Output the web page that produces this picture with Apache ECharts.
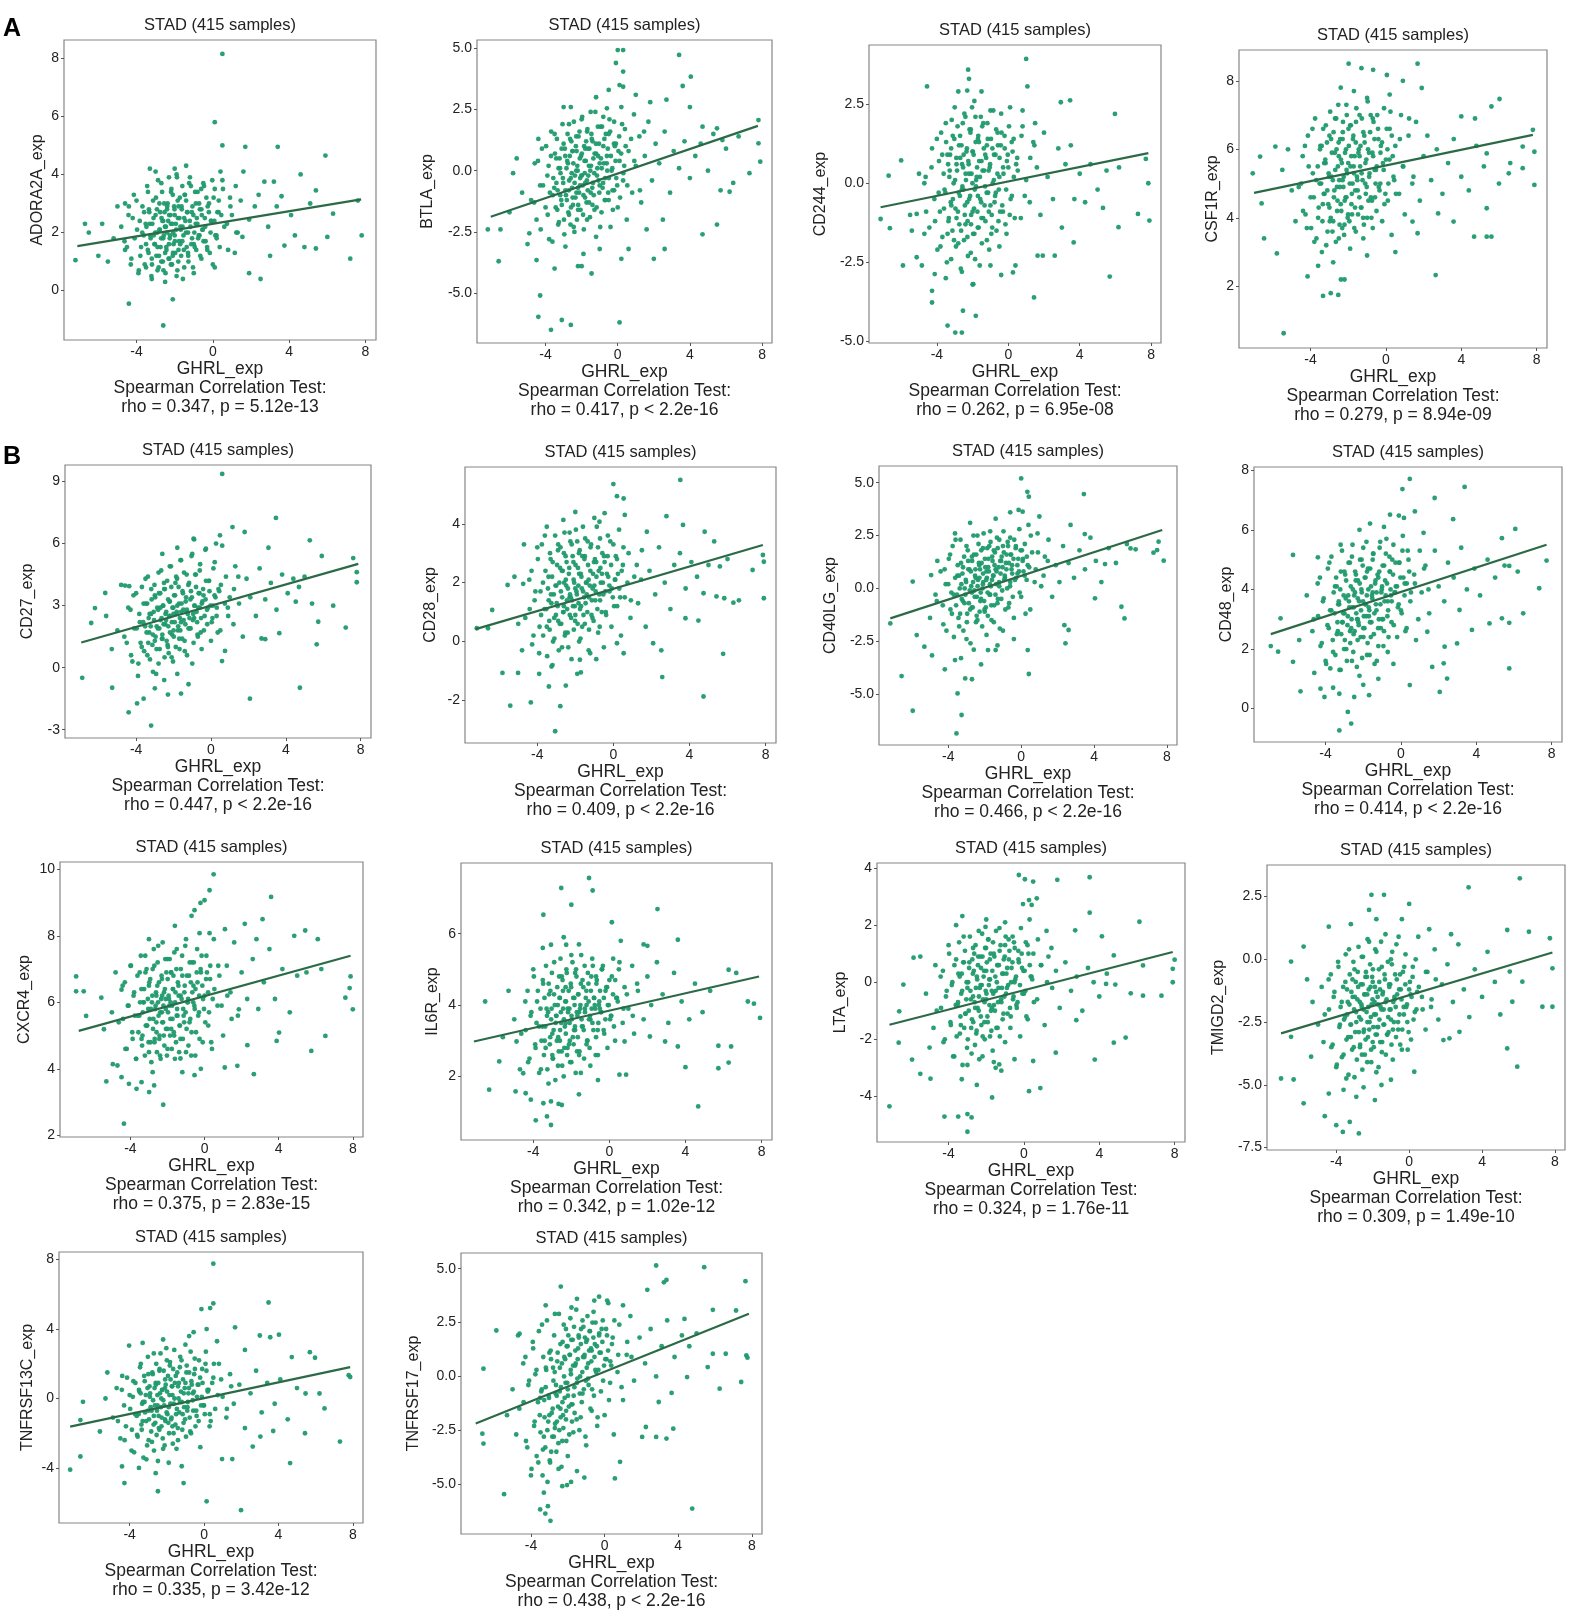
<!DOCTYPE html>
<html>
<head>
<meta charset="utf-8">
<script src="https://cdn.jsdelivr.net/npm/echarts@6/dist/echarts.min.js"></script>
<style>
  html, body { margin: 0; padding: 0; background: #fff; }
  #chart { width: 1575px; height: 1614px; }
</style>
</head>
<body>
<div id="chart"></div>
<script>
// panel texts
var genes = ['ADORA2A', 'BTLA', 'CD244', 'CSF1R', 'CD27', 'CD28', 'CD40LG', 'CD48',
             'CXCR4', 'IL6R', 'LTA', 'TMIGD2', 'TNFRSF13C', 'TNFRSF17'];
var stats = ['rho = 0.347, p = 5.12e-13', 'rho = 0.417, p < 2.2e-16', 'rho = 0.262, p = 6.95e-08',
             'rho = 0.279, p = 8.94e-09', 'rho = 0.447, p < 2.2e-16', 'rho = 0.409, p < 2.2e-16',
             'rho = 0.466, p < 2.2e-16', 'rho = 0.414, p < 2.2e-16', 'rho = 0.375, p = 2.83e-15',
             'rho = 0.342, p = 1.02e-12', 'rho = 0.324, p = 1.76e-11', 'rho = 0.309, p = 1.49e-10',
             'rho = 0.335, p = 3.42e-12', 'rho = 0.438, p < 2.2e-16'];
var xTicks = [-4, 0, 4, 8];
var xRange = [-7.8, 8.55];
var yTicks = [[0, 2, 4, 6, 8], [-5, -2.5, 0, 2.5, 5], [-5, -2.5, 0, 2.5], [2, 4, 6, 8],
              [-3, 0, 3, 6, 9], [-2, 0, 2, 4], [-5, -2.5, 0, 2.5, 5], [0, 2, 4, 6, 8],
              [2, 4, 6, 8, 10], [2, 4, 6], [-4, -2, 0, 2, 4], [-7.5, -5, -2.5, 0, 2.5],
              [-4, 0, 4, 8], [-5, -2.5, 0, 2.5, 5]];
var yRanges = [[-1.7, 8.63], [-7.04, 5.34], [-5.05, 4.37], [0.2, 8.9], [-3.4, 9.8], [-3.45, 5.93],
               [-7.41, 5.79], [-1.12, 8.11], [1.95, 10.22], [0.22, 7.98], [-5.6, 4.18], [-7.6, 3.76],
               [-7.17, 8.44], [-7.32, 5.73]];
// fitted line end points (x, y)
var fitLines = [[[-7.1, 1.53], [7.77, 3.14]], [[-7.04, -1.88], [7.77, 1.83]], [[-7.15, -0.76], [7.84, 0.95]],
                [[-7.0, 4.73], [7.8, 6.42]], [[-6.93, 1.22], [7.87, 5.02]], [[-7.24, 0.42], [7.86, 3.28]],
                [[-7.18, -1.42], [7.74, 2.76]], [[-6.91, 2.5], [7.73, 5.5]], [[-6.79, 5.14], [7.88, 7.4]],
                [[-7.12, 2.98], [7.87, 4.8]], [[-7.14, -1.49], [7.9, 1.06]], [[-7.03, -2.95], [7.86, 0.27]],
                [[-7.2, -1.62], [7.86, 1.81]], [[-7.0, -2.19], [7.84, 2.91]]];

// GHRL values of the densely packed samples, shared by all panels
var ghrlCore = [-4.63,-4.42,-4.27,-4.14,-3.97,-3.88,-3.83,-3.76,-3.69,-3.62,
  -3.57,-3.48,-3.44,-3.37,-3.33,-3.26,-3.22,-3.17,-3.13,-3.06,
  -3.02,-2.96,-2.93,-2.87,-2.84,-2.78,-2.74,-2.69,-2.66,-2.62,
  -2.57,-2.53,-2.48,-2.46,-2.43,-2.37,-2.34,-2.28,-2.26,-2.22,
  -2.17,-2.14,-2.08,-2.06,-2.03,-1.97,-1.94,-1.88,-1.86,-1.83,
  -1.77,-1.73,-1.68,-1.66,-1.63,-1.57,-1.54,-1.48,-1.44,-1.37,
  -1.33,-1.28,-1.24,-1.17,-1.13,-1.07,-1.04,-0.97,-0.93,-0.87,
  -0.84,-0.77,-0.72,-0.66,-0.58,-0.53,-0.46,-0.38,-0.27,-0.16,
  -0.08,0.04,0.13,0.24,0.36,0.53,0.74,0.92,1.23,1.46];
var ghrlCore2 = [-3.52,-3.41,-3.35,-3.28,-3.19,-3.11,-3.04,-2.98,-2.91,-2.82,
  -2.76,-2.71,-2.64,-2.59,-2.55,-2.51,-2.44,-2.39,-2.32,-2.29,
  -2.24,-2.19,-2.12,-2.09,-2.01,-1.99,-1.92,-1.84,-1.81,-1.75,
  -1.71,-1.64,-1.59,-1.52,-1.46,-1.41,-1.35,-1.29,-1.21,-1.15,
  -1.09,-1.02,-0.95,-0.89,-0.81,-0.74,-0.68,-0.61,-0.55,-0.49,
  -0.42,-0.34,-0.29,-0.21,-0.12,-0.03,0.08,0.19,0.31,0.44];

var adora2aCore = [1.7,2.6,1.1,3.3,2.1,0.7,2.4,1.5,2.9,1.9,0.9,2.2,3.6,1.3,2.7,1.8,0.5,2.3,3.1,1.6,
  2.0,1.2,2.8,3.8,0.8,2.1,1.5,2.5,3.4,1.0,1.9,2.7,0.6,2.2,1.4,3.0,2.4,1.1,1.8,2.6,
  3.5,0.9,2.0,1.6,2.9,1.3,2.3,3.9,0.7,2.5,1.7,3.2,2.1,1.2,2.8,0.4,1.9,3.3,2.4,1.5,
  2.7,1.0,3.7,2.2,1.6,2.9,0.8,2.0,3.4,1.4,2.5,1.8,3.0,1.2,2.6,2.1,3.6,1.7,2.9,1.3,
  2.4,3.2,1.9,2.7,1.5,3.5,2.3,2.9,2.0,3.1];
var btlaCore = [-1.3,0.4,-2.4,-0.6,1.0,-1.8,0.2,-0.9,1.6,-2.9,-0.3,0.7,-1.5,1.3,-0.8,-2.1,0.5,-0.1,-1.2,1.9,
  -0.5,-2.6,0.9,-1.0,0.1,1.5,-1.7,-0.4,0.6,-2.2,1.2,-0.7,-1.4,0.3,2.0,-0.2,-1.1,0.8,-2.0,0.0,
  1.4,-0.9,-0.3,-1.6,0.6,2.2,-0.6,-2.4,1.0,-0.1,0.4,-1.3,1.7,-0.8,-0.2,0.9,-1.9,0.2,1.3,-0.5,
  -1.0,0.7,2.4,-1.5,0.1,-0.4,1.1,-2.3,0.5,1.8,-0.7,0.3,-1.2,1.5,0.0,-0.9,2.1,0.6,-1.6,1.0,
  -0.3,0.8,-1.1,1.9,0.2,-0.6,1.3,0.4,-0.8,1.6];
var cd244Core = [0.2,-1.4,1.1,-0.5,-2.1,0.7,-0.9,1.6,-1.7,0.3,-0.2,1.3,-2.5,0.6,-1.1,0.9,-0.6,2.0,-1.5,0.0,
  1.4,-0.8,-2.0,0.4,1.8,-0.3,-1.3,0.8,-2.7,1.2,-0.1,0.5,-1.8,2.2,-0.7,0.1,1.0,-1.2,-2.3,0.6,
  1.7,-0.4,-1.0,0.3,2.4,-1.6,0.9,-0.2,-2.4,1.3,0.2,-0.9,1.5,-1.4,0.7,-0.5,2.1,-1.9,0.4,1.1,
  -0.7,-1.2,0.8,1.9,-0.3,-2.1,0.5,1.4,-1.0,0.0,2.3,-0.6,0.9,-1.5,1.2,-0.2,-0.9,1.6,0.3,-1.3,
  0.7,1.8,-0.5,1.0,-1.1,0.4,1.5,-0.4,0.8,1.2];
var csf1rCore = [4.9,5.8,4.1,6.4,3.7,5.3,4.6,6.9,3.4,5.5,4.3,6.1,5.0,3.9,6.6,4.7,5.7,3.2,6.2,4.4,
  5.2,7.1,4.0,5.9,3.6,6.5,4.8,5.4,3.3,6.0,4.5,7.3,5.1,3.8,6.3,4.2,5.6,6.8,4.9,3.5,
  5.9,4.6,7.0,5.3,4.0,6.1,3.9,5.5,6.7,4.4,5.0,6.4,3.7,5.8,4.8,7.2,5.2,4.1,6.0,5.5,
  4.3,6.9,5.1,3.8,6.2,4.7,5.7,7.4,4.5,5.3,6.5,4.0,5.9,6.8,4.6,5.4,7.0,4.9,6.1,5.6,
  4.4,6.6,5.0,7.1,5.8,4.7,6.3,5.5,6.9,5.2];
var cd27Core = [1.5,2.9,0.6,3.5,1.9,0.2,2.6,1.2,3.9,2.2,0.8,3.1,1.7,4.4,2.4,0.4,2.0,3.3,1.1,2.7,
  4.0,1.5,-0.3,2.9,1.9,3.6,0.9,2.3,4.7,1.4,3.0,2.1,0.5,3.8,2.6,1.3,4.2,2.0,0.7,3.2,
  2.5,4.9,1.6,2.9,0.3,3.5,2.2,1.0,4.4,2.7,1.8,3.9,0.9,2.4,5.2,3.1,1.4,2.8,4.6,2.1,
  3.4,0.6,2.6,4.1,1.9,3.7,5.4,2.3,1.2,3.0,4.5,2.7,1.6,3.6,5.0,2.4,3.2,1.8,4.2,2.9,
  3.7,2.2,4.8,3.4,1.7,4.0,3.1,2.5,3.8,4.4];
var cd28Core = [0.8,2.1,-0.1,1.4,2.8,0.5,1.7,3.3,0.2,1.1,2.4,-0.5,1.8,0.7,3.0,1.3,2.2,0.0,1.6,3.6,
  0.9,2.6,1.2,-0.3,2.0,3.2,0.6,1.5,2.4,1.0,3.7,0.3,1.9,2.7,1.1,-0.2,2.3,1.6,3.4,0.8,
  1.4,2.9,0.4,2.0,1.2,3.8,1.7,0.6,2.5,1.3,3.1,0.1,2.2,1.8,2.9,0.9,1.5,3.5,2.0,1.0,
  2.6,0.4,1.9,3.3,1.4,2.3,0.7,2.8,1.7,3.9,1.1,2.4,0.5,2.0,3.0,1.6,2.7,0.9,2.2,3.4,
  1.8,1.2,2.9,2.3,1.5,3.2,2.0,1.4,2.6,2.1];
var cd40lgCore = [-0.6,0.8,-1.7,0.2,1.4,-1.0,-0.2,2.0,-2.3,0.5,-0.8,1.1,-1.4,0.0,2.3,-0.5,0.7,-2.0,1.5,-0.3,
  0.3,-1.2,1.8,-0.7,0.9,-2.6,0.1,1.3,-0.9,2.5,-0.1,0.6,-1.6,1.6,-0.4,0.4,2.1,-1.1,0.9,-0.2,
  1.2,-1.8,0.3,2.6,-0.6,1.0,-0.9,0.5,1.9,-1.3,0.8,-0.3,2.2,0.1,-1.5,1.3,0.6,-0.8,1.7,0.2,
  2.4,-0.5,1.0,-1.9,0.7,1.5,-0.1,2.7,0.4,-1.0,1.2,0.0,2.0,-0.7,1.6,0.9,-0.4,2.3,0.5,1.4,
  -0.2,1.8,0.8,-1.2,1.1,2.5,0.3,1.7,0.6,1.3];
var cd48Core = [3.0,4.2,2.1,3.6,1.5,4.7,2.7,3.3,5.1,2.3,3.9,1.8,4.4,2.9,3.5,1.3,4.0,2.5,5.3,3.2,
  2.0,4.5,3.7,1.6,2.8,4.9,3.4,2.2,4.1,3.0,5.5,1.9,3.8,2.6,4.6,3.2,1.4,4.3,2.9,3.6,
  5.0,2.4,3.9,1.7,4.8,3.1,2.7,4.4,3.5,5.6,2.2,4.0,3.3,1.8,4.7,2.9,3.8,5.2,2.5,4.2,
  3.5,1.6,4.5,3.0,5.4,2.7,3.9,4.8,2.1,3.6,4.3,5.7,3.1,2.4,4.6,3.8,5.0,2.8,4.1,3.4,
  4.9,3.2,4.4,2.6,5.3,3.9,4.2,3.0,4.7,4.0];
var cxcr4Core = [5.4,6.5,4.6,5.9,7.1,4.9,6.2,5.6,4.3,6.8,5.1,6.0,7.4,4.7,5.7,6.4,4.4,5.3,7.0,6.1,
  4.8,5.5,6.7,4.2,6.0,5.2,7.6,4.9,5.8,6.3,4.5,7.2,5.6,6.6,5.0,4.3,6.1,5.4,7.8,5.9,
  4.7,6.4,5.2,6.9,4.4,5.7,6.2,7.3,5.0,6.0,4.6,5.5,6.8,5.1,7.5,6.3,4.8,5.8,6.6,4.5,
  5.3,7.0,6.1,4.9,5.6,6.5,7.7,5.2,6.0,4.7,6.8,5.5,4.4,6.3,7.2,5.8,5.1,6.6,4.9,7.4,
  6.1,5.4,6.9,5.7,4.8,6.4,7.1,5.9,6.2,5.5];
var il6rCore = [3.2,4.1,2.4,3.7,4.8,2.8,3.5,4.4,2.1,3.9,3.0,4.6,2.6,3.4,5.1,2.2,3.8,4.3,2.9,3.6,
  4.9,2.5,3.3,4.0,1.9,3.7,4.5,3.1,2.7,4.2,5.3,3.5,2.3,4.7,3.9,2.8,3.4,4.1,5.0,2.6,
  3.8,4.4,3.0,2.4,4.6,3.6,5.2,2.9,3.3,4.0,2.1,4.8,3.7,3.1,4.3,2.7,3.9,5.4,3.4,4.5,
  2.5,3.8,4.2,3.0,4.9,3.6,2.8,4.4,3.9,5.1,3.3,4.0,2.6,4.7,3.5,4.1,3.8,5.0,3.2,4.5,
  4.0,3.6,4.8,3.4,4.2,5.2,3.9,4.3,3.7,4.6];
var ltaCore = [-1.0,0.2,-2.1,-0.5,1.0,-1.5,-0.1,-2.6,0.6,-0.8,-1.9,0.3,1.4,-1.2,-0.4,-2.9,0.7,-1.6,1.1,-0.6,
  -2.3,0.0,-1.0,1.6,-0.3,-2.5,0.8,-1.4,0.4,-0.7,1.3,-1.8,0.1,-0.9,0.9,-2.7,-0.2,0.5,-1.5,1.7,
  -0.6,0.2,-2.0,1.2,-0.3,0.7,-1.2,1.5,-0.1,-0.8,1.0,-1.7,0.4,-2.4,-0.4,0.9,-1.0,1.8,0.0,-0.7,
  0.6,-1.9,1.3,-0.2,-1.3,0.8,-0.5,1.6,0.3,-1.1,-0.1,1.1,-1.6,0.5,-0.6,1.4,0.1,-0.9,0.7,1.9,
  -0.4,0.4,-1.2,1.0,0.2,-0.7,1.5,0.6,0.0,1.2];
var tmigd2Core = [-2.2,-0.8,-3.5,-1.5,-4.2,-0.3,-2.7,-1.9,-3.9,-1.1,-2.4,0.2,-3.2,-1.7,-4.6,-0.6,-2.6,-1.3,-3.6,-0.1,
  -2.0,-2.9,-0.9,-4.0,-1.6,0.5,-2.3,-3.4,-1.0,-1.8,-4.4,0.1,-2.8,-1.4,-3.8,-0.5,-2.1,0.8,-3.1,-1.2,
  -2.5,-0.2,-4.1,-1.8,-0.7,-2.7,-3.5,-1.1,0.4,-2.2,-3.0,-1.5,-4.3,-0.4,-2.4,-1.9,0.7,-3.3,-1.3,-2.6,
  -0.8,-3.8,-1.6,-0.1,-2.9,-2.0,-1.0,-3.4,0.3,-1.7,-2.5,-0.6,-3.1,-1.4,0.9,-2.2,-1.2,-2.8,-0.3,-1.9,
  -3.6,-0.9,-1.5,-2.4,0.0,-1.1,-2.0,-0.5,-1.6,-0.8];
var tnfrsf13cCore = [-1.3,0.5,-2.4,1.2,-0.6,-1.8,0.1,-3.1,0.9,-1.0,-2.2,0.4,1.8,-1.5,-0.3,-3.4,1.3,-0.8,0.2,-2.7,
  2.4,-1.2,0.7,-0.5,-1.9,1.5,-0.1,-3.0,0.6,-1.4,2.0,-0.7,-3.6,0.9,-1.7,0.3,2.6,-1.1,0.5,-2.3,
  1.6,-0.4,-1.3,0.8,2.9,-0.9,1.3,-2.0,0.2,2.1,-1.2,0.7,-2.6,1.7,-0.3,0.9,-1.5,-2.9,1.5,0.0,
  -0.8,2.4,0.4,-1.8,1.1,-0.5,0.6,-2.2,1.9,-0.2,0.3,-1.1,2.7,0.8,-0.7,1.4,-1.6,0.1,2.2,-0.4,
  0.9,-0.9,1.6,0.5,-1.3,2.0,0.2,1.1,-0.6,0.7];
var tnfrsf17Core = [-1.5,0.6,-3.0,-0.4,-4.3,1.3,-2.3,0.1,-3.7,-1.2,2.1,-2.6,-0.7,-4.6,0.9,-1.9,-3.3,0.3,2.6,-2.1,
  -1.0,-4.0,1.2,-1.7,-2.8,-0.2,1.9,-2.2,-0.8,-3.5,0.7,-1.4,2.9,-2.5,0.4,-0.5,-4.2,1.6,-1.8,2.4,
  -1.0,0.8,-3.0,1.4,-0.3,1.9,-1.4,1.0,2.7,0.1,-2.1,1.7,-0.9,2.3,-1.7,0.6,3.1,-0.1,1.3,-2.5,
  0.0,2.2,-1.2,0.9,-0.6,1.8,-2.8,0.4,2.8,-0.4,1.2,-1.5,0.7,2.5,-0.9,1.5,0.2,-1.9,1.1,2.2,
  -0.2,0.8,1.9,-1.1,0.5,2.6,1.0,-0.5,1.6,0.9];

var adora2aCore2 = [2.3,1.4,2.8,1.9,0.9,2.5,1.6,3.2,2.0,1.2,2.7,1.8,2.4,0.7,3.0,2.2,1.5,2.9,1.1,2.6,
  1.9,3.4,2.3,1.3,2.8,1.7,2.1,3.1,1.0,2.5,1.6,2.9,2.2,1.4,3.3,2.0,2.7,1.2,2.4,3.6,
  1.8,2.6,1.5,3.0,2.3,1.9,2.8,3.5,2.1,1.7,2.5,3.2,1.4,2.7,2.0,3.8,2.4,1.9,3.1,2.6];
var btlaCore2 = [-0.7,0.5,-1.6,0.1,-1.0,0.9,-0.3,-2.0,0.6,-1.2,0.3,-0.8,1.3,-1.5,-0.1,0.8,-2.3,-0.5,1.0,-0.9,
  0.2,-1.4,1.6,-0.6,-0.2,0.7,-1.8,0.4,-1.1,1.2,-0.4,0.9,-1.3,0.0,1.5,-0.7,0.5,-1.6,1.1,-0.2,
  0.6,-0.9,1.8,0.1,-0.5,1.3,-1.2,0.3,0.9,-0.3,1.6,0.0,-0.8,1.1,0.4,-0.6,1.4,0.7,-0.1,1.0];
var cd244Core2 = [-0.3,0.9,-1.2,0.4,-0.7,1.5,-1.8,0.1,0.8,-0.9,1.2,-0.4,-1.5,0.6,1.9,-0.2,-1.0,0.3,1.1,-1.7,
  0.7,-0.5,1.6,-1.3,0.0,1.0,-0.8,2.1,-0.1,0.5,-1.4,1.3,0.2,-0.6,1.8,-1.1,0.4,0.9,-0.3,1.4,
  -0.9,0.6,-1.6,1.1,0.1,-0.4,1.7,0.3,-1.2,0.8,1.2,-0.7,0.5,1.5,-0.2,0.9,-1.0,1.3,0.2,0.6];
var csf1rCore2 = [5.0,6.1,4.4,5.6,6.7,4.8,5.3,3.9,6.3,5.1,4.6,5.9,6.9,4.2,5.5,6.2,4.9,5.7,3.7,6.5,
  5.2,4.5,6.0,5.4,4.1,6.6,5.0,5.8,4.7,6.3,5.5,4.3,6.8,5.1,5.9,4.6,6.1,5.3,4.0,6.4,
  5.6,4.9,6.0,5.2,7.0,4.5,5.8,6.3,5.0,5.5,6.6,4.8,5.9,6.2,5.4,4.7,6.0,5.7,6.4,5.1];
var cd27Core2 = [2.0,3.1,1.2,2.6,3.8,1.6,2.3,3.4,0.9,2.8,1.9,3.6,2.4,1.4,3.0,4.1,2.1,2.7,1.1,3.3,
  2.5,1.7,3.9,2.2,2.9,1.5,3.5,2.6,4.3,2.0,3.1,1.8,2.7,3.7,2.3,1.3,3.2,2.8,4.0,2.4,
  1.9,3.4,2.6,3.0,4.5,2.2,2.9,3.6,1.7,3.1,3.8,2.5,3.3,2.8,4.2,3.0,2.4,3.5,2.9,3.7];
var cd28Core2 = [1.1,2.2,0.4,1.6,2.7,0.8,1.9,1.3,3.1,0.6,1.7,2.4,1.0,2.0,0.2,2.9,1.4,1.8,2.5,0.9,
  1.5,3.3,1.2,2.1,0.7,2.6,1.6,1.9,3.0,1.1,2.3,0.5,1.7,2.8,1.3,2.0,3.4,1.5,2.4,0.9,
  1.8,2.7,1.4,2.2,3.2,1.6,2.5,1.0,2.0,2.9,1.7,2.3,3.6,1.9,2.6,1.5,2.1,2.8,1.8,2.4];
var cd40lgCore2 = [-0.3,0.6,-1.2,0.2,1.0,-0.7,0.4,-1.6,1.3,-0.1,0.8,-0.9,0.3,1.6,-0.4,0.9,-1.3,0.1,1.2,0.5,
  -0.6,1.8,0.0,0.7,-1.0,1.4,0.4,-0.2,1.0,2.0,0.2,-0.8,1.5,0.6,1.1,-0.3,0.8,1.9,0.3,1.3,
  -0.5,1.0,1.7,0.5,0.9,2.2,1.2,0.1,1.6,0.7,1.4,0.4,2.0,1.1,0.8,1.8,1.3,0.6,1.5,1.0];
var cd48Core2 = [3.2,4.1,2.6,3.5,4.6,2.9,3.8,2.3,4.3,3.1,3.6,4.9,2.7,3.4,4.0,2.5,3.9,4.5,3.0,3.7,
  2.8,4.2,3.3,5.0,3.6,2.4,4.4,3.1,3.8,4.7,3.4,2.9,4.1,3.7,5.2,3.2,4.3,3.9,2.7,4.6,
  3.5,4.0,3.0,4.8,3.8,4.2,3.3,5.1,4.0,3.6,4.5,3.9,4.9,4.1,3.5,4.4,5.3,3.8,4.2,4.6];
var cxcr4Core2 = [5.6,6.4,5.0,6.0,6.9,5.3,5.8,6.6,4.8,6.2,5.5,7.1,5.9,5.1,6.5,6.0,4.9,5.7,6.8,6.2,
  5.4,6.3,7.3,5.8,5.2,6.7,6.1,5.5,6.9,5.9,6.4,5.0,6.0,7.0,5.6,6.5,5.3,6.2,7.4,5.8,
  6.3,5.7,6.8,6.1,5.4,6.6,7.2,6.0,5.9,6.4,6.9,5.6,6.2,7.0,6.5,5.8,6.7,6.3,7.1,6.1];
var il6rCore2 = [3.4,4.2,2.8,3.7,4.6,3.1,3.9,2.5,4.3,3.5,3.0,4.0,4.8,3.3,3.8,2.7,4.4,3.6,4.1,3.2,
  4.9,3.9,2.9,3.5,4.5,3.7,3.1,4.2,3.4,5.0,3.8,4.3,2.6,4.0,3.6,4.7,3.3,3.9,4.4,3.0,
  4.1,3.7,4.8,3.5,4.2,3.9,4.6,3.3,4.0,4.4,3.8,5.1,4.2,3.6,4.5,4.0,3.7,4.3,4.7,4.1];
var ltaCore2 = [-0.8,0.2,-1.5,-0.3,0.7,-1.1,0.0,-2.0,0.5,-0.6,-1.3,0.3,1.0,-0.9,-0.2,-1.7,0.6,-0.5,0.9,-1.2,
  -0.1,-1.9,0.4,-0.7,1.2,-0.4,-1.4,0.1,0.8,-1.0,-0.3,1.4,-0.8,0.2,-1.6,0.6,-0.2,1.1,-0.6,0.3,
  -1.1,0.9,-0.4,0.5,1.5,-0.9,0.0,0.7,-0.5,1.2,0.2,-0.7,0.8,-0.1,1.0,0.4,-0.3,1.3,0.6,0.1];
var tmigd2Core2 = [-2.3,-1.2,-3.1,-1.8,-2.6,-0.8,-3.5,-1.5,-2.1,-0.5,-2.9,-1.7,-2.4,-3.8,-1.0,-2.0,-1.4,-3.2,-0.7,-2.5,
  -1.9,-2.8,-1.1,-3.6,-1.6,-0.4,-2.2,-3.0,-1.3,-2.7,-1.8,-0.9,-3.3,-2.0,-1.4,-2.6,-0.6,-1.7,-3.0,-2.3,
  -1.1,-2.0,-0.2,-2.8,-1.5,-1.9,-0.8,-2.5,-1.2,-3.4,-1.6,-0.5,-2.2,-1.0,-1.8,-2.9,-1.4,-0.7,-2.1,-1.3];
var tnfrsf13cCore2 = [-0.9,0.3,-1.8,-0.2,1.0,-1.3,0.6,-2.4,0.1,-0.7,1.4,-1.5,-0.4,0.8,-2.1,0.2,-1.0,1.7,-0.5,-1.6,
  0.5,-0.1,-2.7,1.1,-0.8,0.4,-1.4,1.9,-0.3,-1.1,0.7,-2.0,0.0,1.3,-0.6,-1.7,0.9,-0.2,2.2,-0.9,
  0.3,-1.2,1.5,-0.5,0.6,-1.9,1.0,-0.1,0.4,1.7,-0.7,0.8,-1.3,1.2,0.1,-0.4,2.0,0.5,-0.9,0.9];
var tnfrsf17Core2 = [-1.8,-0.6,-3.4,-1.1,0.4,-2.5,-0.9,-3.9,0.8,-1.5,-2.8,0.2,-0.4,-2.1,1.1,-3.1,-0.7,-1.9,0.6,-1.2,
  -2.4,0.9,-0.3,-1.6,1.4,-0.9,-2.7,0.3,1.7,-1.3,0.5,-0.5,1.2,-2.0,0.8,1.9,-0.8,1.5,0.2,2.3,
  1.0,-0.2,1.7,0.6,2.1,1.3,-0.6,1.8,0.9,2.5,1.4,0.3,2.0,1.1,1.6,0.5,2.2,1.2,0.7,1.8];

// the remaining samples, read as (GHRL, gene) pairs
var adora2a = [[-4.8,2.2],[-4.6,1.4],[-4.4,2.9],[-4.3,0.9],[-4.2,2.5],[-4.1,1.8],[-4.0,3.1],[-3.9,0.6],[-3.8,1.2],[-3.7,2.0],[-3.6,2.7],[-3.5,0.8],[-3.5,1.6],[-3.4,3.4],[-3.3,2.3],[-3.2,0.4],[-3.2,1.1],[-3.1,1.9],[-3.0,2.6],[-3.0,4.1],[-2.9,0.7],[-2.9,1.5],[-2.8,2.1],[-2.8,3.0],[-2.7,1.0],[-2.7,3.7],[-2.6,1.8],[-2.6,2.4],[-2.5,0.3],[-2.5,1.3],[-2.4,2.0],[-2.4,2.8],[-2.3,3.9],[-2.3,1.6],[-2.2,0.9],[-2.2,2.3],[-2.1,1.2],[-2.1,3.3],[-2.0,2.6],[-2.0,1.9],[-1.9,0.5],[-1.9,4.0],[-1.8,1.4],[-1.8,2.9],[-1.7,2.2],[-1.6,3.6],[-1.6,1.7],[-1.5,0.8],[-1.5,2.5],[-1.4,3.1],[-1.3,1.3],[-1.3,2.0],[-1.2,3.9],[-1.1,2.7],[-1.0,1.6],[-1.0,0.6],[-0.9,2.3],[-0.8,3.4],[-0.7,1.9],[-0.6,2.8],[-0.6,1.1],[-0.5,3.7],[-0.4,2.2],[-0.3,1.5],[-0.2,3.0],[-0.1,2.4],[0.0,0.9],[0.1,3.5],[0.2,1.8],[0.3,2.7],[0.4,4.1],[0.5,3.8],[0.6,2.2],[0.8,1.4],[0.9,3.2],[1.0,2.6],[1.2,3.6],[1.3,2.0],
  [0.5,8.15],[0.1,5.8],[0.5,5.0],[1.7,4.95],[3.4,4.95],[5.9,4.65],[4.6,4.0],[-4.4,-0.45],[-2.1,-0.3],[-2.6,-1.2],[-7.2,1.05],[-6.7,2.3],[7.2,1.1],[7.8,1.9],[7.6,3.1],[1.9,0.6],[2.5,0.4],[0.1,0.8],[3.75,1.55],[4.8,1.5],[5.4,1.45],[6.3,2.65],[6.0,1.85],[2.7,3.75],[3.2,3.75],[3.6,3.25],[3.35,2.9],[5.1,3.0],[5.4,3.45],[1.55,1.85],[1.15,1.3],[1.9,2.45],[-6.5,2.0],[-6.0,1.2],[-5.8,2.3],[-5.5,1.0],[-5.2,1.8],[-5.0,2.9],[-4.6,3.0],[-4.5,1.5],[2.2,2.9],[2.9,2.2],[4.1,2.6],[4.3,1.9],[3.0,1.2],[2.4,3.3],[1.6,4.1],[-3.3,4.2],[-2.0,4.2],[-1.4,4.3]];

var btla = [[-4.8,-1.2],[-4.6,0.3],[-4.5,-2.0],[-4.3,-0.6],[-4.2,0.9],[-4.0,-1.5],[-3.9,-0.2],[-3.8,-2.8],[-3.7,0.6],[-3.6,-1.0],[-3.5,1.5],[-3.4,-0.5],[-3.3,-2.2],[-3.2,0.1],[-3.1,-1.4],[-3.0,1.1],[-2.9,-0.8],[-2.9,-3.1],[-2.8,0.4],[-2.7,-1.8],[-2.7,1.9],[-2.6,-0.3],[-2.5,-1.1],[-2.5,0.8],[-2.4,-2.5],[-2.3,0.0],[-2.3,1.4],[-2.2,-0.7],[-2.2,-1.6],[-2.1,0.5],[-2.0,-0.2],[-2.0,2.1],[-1.9,-1.0],[-1.9,-3.4],[-1.8,0.9],[-1.8,-0.5],[-1.7,1.6],[-1.7,-2.0],[-1.6,0.2],[-1.5,-0.9],[-1.5,2.4],[-1.4,1.2],[-1.4,-1.4],[-1.3,-0.1],[-1.2,0.7],[-1.2,-2.7],[-1.1,1.8],[-1.0,-0.6],[-1.0,0.3],[-0.9,-1.7],[-0.8,1.0],[-0.8,2.2],[-0.7,-0.3],[-0.6,0.6],[-0.5,-1.2],[-0.5,1.5],[-0.4,-2.3],[-0.3,0.1],[-0.2,2.0],[-0.2,-0.8],[-0.1,1.1],[0.0,-1.5],[0.1,0.4],[0.2,2.6],[0.3,-0.4],[0.4,1.7],[0.5,-2.0],[0.6,0.8],[0.8,-0.9],[0.9,2.3],[1.0,0.2],[1.2,1.4],[1.3,-1.3],[1.5,0.6],[1.7,2.0],[1.9,-0.4],[2.1,1.1],[2.3,0.3],[2.6,1.6],[2.9,-0.9],[3.1,0.8],[3.4,0.1],[3.7,1.2],[4.0,-0.3],[4.3,0.6],[4.6,1.1],[5.0,0.0],[5.3,1.5],[6.0,0.9],[6.7,1.4],[-5.3,-0.9],[-5.6,0.5],[-6.0,-1.7],[-5.0,-3.0],[-3.5,-4.0],[-2.2,-3.9],[-1.0,-3.2],[-3.0,2.6],[-1.2,3.0],[-0.5,3.3],[1.0,3.1],[1.8,2.8],
  [0.0,4.93],[0.3,4.93],[-0.1,4.4],[0.3,4.05],[0.1,3.5],[0.3,3.43],[3.4,4.73],[4.05,3.84],[3.6,3.46],[2.7,2.9],[-2.6,2.6],[-0.6,2.55],[4.0,2.6],[4.7,1.8],[5.5,1.73],[5.8,1.25],[7.8,2.07],[7.8,1.12],[7.9,0.37],[7.3,-0.1],[6.4,-0.5],[6.2,-0.86],[5.7,-0.8],[5.5,-2.2],[4.7,-2.6],[-6.6,-3.7],[-7.2,-2.4],[-6.5,-2.4],[-5.8,-0.1],[-4.4,1.3],[-4.3,-5.1],[-4.4,-5.97],[-3.7,-6.5],[-3.1,-6.1],[-2.6,-6.3],[0.1,-6.2],[-1.45,-4.2],[-2.0,-3.9],[0.2,-3.6],[0.6,-3.2],[2.6,-3.2],[2.0,-3.6],[1.6,-2.4],[2.5,-2.0],[-4.5,-3.65],[-4.9,-2.56]];

var cd244 = [[-4.3,0.5],[-4.1,-1.2],[-4.0,1.4],[-3.9,-0.3],[-3.8,-2.0],[-3.7,0.9],[-3.6,-0.8],[-3.5,1.9],[-3.4,-1.6],[-3.3,0.2],[-3.2,-2.4],[-3.2,1.1],[-3.1,-0.5],[-3.0,2.4],[-2.9,-1.1],[-2.9,0.6],[-2.8,-1.9],[-2.7,1.5],[-2.6,-0.2],[-2.6,-2.8],[-2.5,0.9],[-2.4,-1.3],[-2.4,2.1],[-2.3,-0.6],[-2.2,0.3],[-2.1,-2.2],[-2.1,1.7],[-2.0,-0.9],[-2.0,1.0],[-1.9,-1.6],[-1.9,2.6],[-1.8,0.1],[-1.7,-0.4],[-1.7,1.4],[-1.6,-2.6],[-1.5,0.7],[-1.5,-1.1],[-1.4,1.9],[-1.3,-0.1],[-1.2,-1.8],[-1.2,1.2],[-1.1,0.4],[-1.0,2.3],[-1.0,-0.7],[-0.9,-1.4],[-0.8,0.9],[-0.7,-0.3],[-0.6,1.6],[-0.5,-2.0],[-0.5,0.2],[-0.4,2.2],[-0.3,-0.9],[-0.2,1.1],[-0.1,-1.6],[0.0,0.5],[0.1,2.4],[0.2,-0.4],[0.3,1.4],[0.4,-2.6],[0.5,0.8],[0.7,-1.1],[0.8,1.8],[1.0,0.1],[1.2,-0.6],[1.4,1.3],[1.6,0.5],[1.8,-1.0],[2.0,1.6],[2.2,0.2],[2.5,-0.5],[2.8,1.1],[3.0,-1.4],[3.2,0.6],[3.5,1.2],[3.7,-0.5],[4.0,0.3],[4.3,-0.6],[4.6,0.6],[5.0,-0.2],[5.5,0.4],[6.2,0.5],[-4.6,-0.9],[-5.0,0.3],[-5.5,-1.0],[-3.5,-3.0],[-2.0,-3.2],[-1.0,-2.6],[-0.4,-2.9],[-2.8,2.9],[-1.5,2.9],[0.8,2.3],[1.5,1.9],
  [1.0,3.93],[1.07,3.06],[-2.25,3.59],[-4.55,3.06],[-2.2,3.3],[-2.3,2.93],[2.94,2.56],[3.46,2.62],[5.97,2.19],[7.84,0.0],[7.9,-1.18],[7.7,0.77],[7.26,-0.97],[6.17,-1.39],[5.68,-2.95],[5.3,-0.78],[3.66,-1.87],[1.44,-3.61],[0.26,-2.82],[1.64,-2.29],[1.93,-2.29],[2.6,-2.29],[-6.7,0.24],[-7.15,-1.13],[-6.63,-1.42],[-5.9,-2.6],[-6.0,0.72],[-4.27,-3.77],[-3.4,-4.5],[-2.97,-4.72],[-2.6,-4.72],[-2.54,-4.03],[-1.82,-4.19],[-1.96,-3.19],[-4.12,-2.87],[-4.27,-3.4],[-4.84,-2.6],[-5.13,-2.34],[-4.7,-1.6],[-5.4,-1.5],[-5.13,-0.97],[-4.7,0.0]];

var csf1r = [[-4.5,5.0],[-4.4,4.2],[-4.3,6.1],[-4.2,3.7],[-4.1,5.5],[-4.0,4.6],[-3.9,6.6],[-3.8,3.3],[-3.7,5.1],[-3.6,4.0],[-3.5,6.0],[-3.4,3.0],[-3.3,4.7],[-3.2,5.6],[-3.1,3.6],[-3.0,6.4],[-3.0,4.3],[-2.9,5.2],[-2.8,2.7],[-2.8,3.9],[-2.7,6.9],[-2.6,4.9],[-2.5,5.8],[-2.5,3.4],[-2.4,4.4],[-2.3,6.3],[-2.3,5.1],[-2.2,3.8],[-2.1,7.3],[-2.1,4.6],[-2.0,5.6],[-1.9,3.1],[-1.9,6.7],[-1.8,4.1],[-1.7,5.3],[-1.6,6.2],[-1.6,3.6],[-1.5,4.8],[-1.4,7.0],[-1.4,5.8],[-1.3,4.3],[-1.2,3.4],[-1.2,6.5],[-1.1,5.0],[-1.0,4.0],[-1.0,7.5],[-0.9,5.9],[-0.8,4.6],[-0.7,6.9],[-0.7,3.7],[-0.6,5.4],[-0.5,4.2],[-0.4,6.3],[-0.3,5.0],[-0.2,3.9],[-0.1,7.2],[0.0,5.7],[0.1,4.5],[0.2,6.6],[0.3,3.5],[0.4,5.2],[0.5,6.1],[0.7,4.7],[0.8,7.0],[0.9,5.5],[1.0,4.1],[1.2,6.4],[1.4,5.0],[1.6,6.8],[1.8,4.5],[2.0,5.8],[2.2,6.4],[2.4,5.1],[2.7,6.0],[3.0,4.7],[3.3,5.6],[3.6,6.3],[4.0,5.2],[4.4,4.8],[4.8,6.1],[5.2,5.5],[6.0,5.0],[6.6,5.6],[-5.0,4.8],[-5.2,6.0],[-5.5,5.4],[-4.8,3.9],[-3.6,2.6],[-2.2,2.2],[-1.0,2.9],[0.5,3.0],[-2.4,7.8],[-1.7,7.7],[0.2,7.6],[0.9,8.0],
  [-5.43,0.63],[-2.93,1.8],[-3.34,1.72],[-2.53,1.75],[-4.16,2.29],[-2.39,2.2],[2.64,2.33],[-5.79,2.96],[-6.47,3.4],[-6.6,4.42],[-6.68,5.79],[-7.07,5.3],[-5.87,6.08],[-1.98,8.5],[1.68,8.5],[-1.3,8.37],[-0.68,8.32],[0.05,8.17],[1.9,7.79],[6.03,7.47],[5.6,7.25],[4.0,6.96],[4.73,6.9],[5.35,5.88],[7.26,6.08],[7.8,6.57],[7.88,5.93],[7.88,4.96],[7.26,5.45],[6.52,5.3],[5.35,4.28],[5.6,3.45],[5.35,3.45],[4.68,3.45],[3.59,3.89],[2.77,4.13],[1.68,3.55],[1.41,3.89]];

var cd27 = [[-4.5,1.2],[-4.3,2.8],[-4.2,0.3],[-4.1,1.9],[-4.0,3.6],[-3.9,-0.4],[-3.8,2.2],[-3.7,1.0],[-3.6,3.1],[-3.5,4.3],[-3.4,0.6],[-3.3,1.7],[-3.2,2.6],[-3.1,-0.2],[-3.0,3.5],[-3.0,1.3],[-2.9,2.0],[-2.8,4.6],[-2.8,0.2],[-2.7,2.9],[-2.6,1.6],[-2.5,3.8],[-2.5,-0.6],[-2.4,2.3],[-2.3,1.0],[-2.2,4.9],[-2.2,3.2],[-2.1,0.5],[-2.0,2.6],[-2.0,1.8],[-1.9,4.1],[-1.8,-0.3],[-1.8,3.0],[-1.7,1.4],[-1.6,5.2],[-1.6,2.2],[-1.5,3.6],[-1.4,0.8],[-1.3,4.5],[-1.3,2.7],[-1.2,1.9],[-1.1,3.3],[-1.0,0.2],[-1.0,5.5],[-0.9,2.4],[-0.8,3.9],[-0.7,1.5],[-0.6,4.7],[-0.6,2.9],[-0.5,0.9],[-0.4,3.5],[-0.3,5.7],[-0.2,2.1],[-0.1,4.2],[0.0,1.3],[0.1,3.0],[0.2,5.1],[0.3,2.5],[0.4,3.8],[0.5,1.8],[0.6,5.9],[0.8,4.4],[0.9,2.9],[1.0,3.4],[1.2,2.1],[1.3,4.9],[1.5,3.1],[1.7,1.5],[1.9,4.3],[2.1,3.4],[2.4,2.5],[2.6,4.8],[2.9,3.3],[3.2,4.1],[3.5,2.8],[3.8,4.5],[4.1,3.6],[4.4,4.3],[4.7,3.9],[5.0,4.4],[5.4,3.1],[-5.0,1.8],[-5.3,0.9],[-5.6,2.5],[-4.8,4.0],[-3.0,-1.0],[-2.3,-1.3],[-3.6,-1.5],[-1.2,-0.8],[-2.6,5.5],[-1.8,5.8],[-0.9,6.2],
  [0.6,9.37],[3.47,7.24],[1.8,6.56],[5.28,6.16],[5.92,5.4],[7.6,5.3],[7.79,4.62],[7.79,4.13],[7.2,1.94],[6.53,3.0],[5.73,2.22],[5.65,1.13],[4.53,3.19],[4.75,-0.97],[2.08,-1.5],[-1.6,-1.25],[-3.2,-2.8],[-4.4,-2.16],[-3.95,-1.73],[-5.28,-0.97],[-6.88,-0.49],[-6.4,2.16],[-6.2,2.88],[-5.65,3.61],[-4.59,3.97],[-4.37,3.94],[0.59,0.32],[0.75,0.81],[2.9,1.38],[2.7,1.41],[3.65,1.67],[3.07,5.8],[1.15,6.8],[0.48,6.4],[0.27,6.0],[-0.27,5.75],[-0.93,6.24]];

var cd28 = [[-4.4,1.1],[-4.3,2.4],[-4.2,0.2],[-4.1,1.7],[-4.0,3.2],[-3.9,-0.4],[-3.8,0.9],[-3.7,2.0],[-3.6,3.6],[-3.5,0.5],[-3.4,1.4],[-3.3,2.8],[-3.2,-0.8],[-3.1,0.1],[-3.0,1.9],[-2.9,3.3],[-2.9,0.7],[-2.8,2.5],[-2.7,-0.2],[-2.6,1.2],[-2.6,3.0],[-2.5,2.1],[-2.4,0.3],[-2.3,3.7],[-2.3,1.5],[-2.2,-0.6],[-2.1,2.7],[-2.0,0.9],[-2.0,1.8],[-1.9,3.4],[-1.8,0.0],[-1.8,2.3],[-1.7,1.2],[-1.6,3.9],[-1.5,0.6],[-1.5,2.9],[-1.4,1.6],[-1.3,-0.3],[-1.3,2.1],[-1.2,3.2],[-1.1,0.8],[-1.0,1.9],[-0.9,2.7],[-0.8,0.3],[-0.7,3.5],[-0.7,1.4],[-0.6,2.3],[-0.5,-0.2],[-0.4,1.0],[-0.3,2.9],[-0.2,1.7],[-0.1,0.5],[0.0,3.3],[0.1,2.1],[0.2,1.2],[0.3,3.8],[0.4,0.2],[0.5,2.6],[0.6,1.5],[0.8,3.0],[0.9,0.8],[1.1,2.2],[1.3,1.3],[1.5,3.1],[1.7,0.5],[1.9,2.4],[2.2,1.6],[2.4,3.2],[2.7,2.0],[3.0,1.1],[3.2,2.6],[3.5,3.0],[3.8,1.8],[4.1,2.7],[4.4,2.2],[5.0,2.6],[5.3,3.4],[6.0,2.8],[6.6,1.4],[-5.0,0.6],[-5.2,2.2],[-4.8,-0.3],[-4.7,3.3],[-3.9,-1.1],[-2.5,-1.5],[-1.9,-1.1],[-0.9,-0.6],[-3.5,3.9],[-2.0,4.4],[-1.0,4.2],[0.6,4.3],
  [0.0,5.35],[0.19,4.94],[0.54,4.86],[3.52,5.49],[-2.63,4.13],[2.79,4.26],[3.66,3.96],[4.8,3.73],[1.76,3.73],[-0.46,4.36],[-0.73,4.07],[7.86,2.94],[7.91,2.71],[7.32,2.43],[7.91,1.47],[6.31,1.32],[5.83,1.47],[5.42,1.53],[5.6,2.55],[4.74,1.64],[4.47,0.71],[3.79,0.79],[5.77,-0.42],[4.74,-1.87],[2.57,-1.21],[2.52,-0.3],[2.09,-0.06],[-3.06,-3.05],[-2.79,-2.2],[-5.42,-2.18],[-4.34,-2.07],[-3.39,-1.53],[-5.83,-1.07],[-5.01,-1.07],[-6.59,0.45],[-7.18,0.45],[-6.37,1.07],[-5.56,1.92],[-4.74,1.96],[0.54,-0.4],[0.19,-0.06],[-1.22,-0.4],[-1.76,-0.62],[-1.71,-1.05],[-3.25,-0.85]];

var cd40lg = [[-4.3,-0.8],[-4.2,0.9],[-4.1,-2.0],[-4.0,0.2],[-3.9,1.6],[-3.8,-1.2],[-3.7,-0.3],[-3.6,2.3],[-3.5,0.6],[-3.4,-1.8],[-3.3,1.2],[-3.2,-0.6],[-3.1,0.0],[-3.0,2.0],[-3.0,-2.4],[-2.9,0.9],[-2.8,-1.0],[-2.7,1.5],[-2.7,-0.2],[-2.6,-2.9],[-2.5,0.5],[-2.4,2.5],[-2.4,-1.5],[-2.3,1.1],[-2.2,-0.5],[-2.1,0.2],[-2.1,1.9],[-2.0,-1.1],[-1.9,0.8],[-1.9,-2.2],[-1.8,1.4],[-1.7,-0.3],[-1.7,2.7],[-1.6,0.4],[-1.5,-1.6],[-1.5,1.8],[-1.4,0.9],[-1.3,-0.7],[-1.2,2.3],[-1.2,0.1],[-1.1,1.3],[-1.0,-2.0],[-1.0,2.0],[-0.9,0.6],[-0.8,1.6],[-0.7,-0.9],[-0.6,2.4],[-0.6,0.3],[-0.5,1.1],[-0.4,-1.4],[-0.3,1.9],[-0.2,0.7],[-0.1,2.8],[0.0,-0.4],[0.1,1.4],[0.2,2.1],[0.3,0.4],[0.4,3.0],[0.5,-1.0],[0.6,1.7],[0.8,0.9],[0.9,2.6],[1.1,0.1],[1.3,1.5],[1.5,2.3],[1.7,-0.4],[1.9,1.1],[2.1,0.3],[2.3,2.0],[2.6,1.2],[2.9,0.5],[3.2,1.8],[3.5,0.9],[3.8,2.4],[4.1,1.3],[4.4,0.3],[4.8,1.9],[5.2,1.2],[5.8,2.1],[-4.7,-0.3],[-4.6,1.3],[-5.0,-1.4],[-3.3,-3.3],[-2.2,-3.6],[-1.3,-2.7],[-0.4,-2.4],[-2.8,3.1],[-1.4,3.3],[-0.6,3.6],[1.0,3.4],
  [0.0,5.2],[0.34,4.57],[0.42,4.34],[3.44,4.46],[-0.14,3.71],[0.08,3.63],[-3.63,2.6],[2.71,3.0],[3.49,2.57],[7.54,2.21],[7.46,1.81],[7.82,1.31],[7.26,1.69],[6.28,1.85],[6.0,1.89],[4.6,1.15],[5.5,-0.87],[5.67,-1.42],[4.05,-0.47],[2.37,-1.74],[2.6,-1.97],[2.43,-2.6],[0.36,-2.92],[0.42,-4.05],[-1.4,-2.92],[-1.82,-2.92],[-3.07,-4.26],[-2.7,-4.3],[-3.49,-4.97],[-3.27,-5.99],[-3.55,-6.86],[-5.95,-5.79],[-6.56,-4.15],[-4.19,-3.83],[-4.89,-3.17],[-5.31,-2.76],[-5.73,-2.21],[-7.18,-1.66],[-5.95,0.32],[-4.94,0.63],[-3.63,-3.39]];

var cd48 = [[-4.4,3.1],[-4.3,4.4],[-4.2,2.2],[-4.1,3.7],[-4.0,1.6],[-3.9,2.8],[-3.8,4.9],[-3.7,3.3],[-3.6,1.9],[-3.5,4.1],[-3.4,2.5],[-3.3,3.6],[-3.2,1.3],[-3.1,2.9],[-3.0,4.6],[-3.0,3.2],[-2.9,2.0],[-2.8,3.8],[-2.7,2.6],[-2.6,5.1],[-2.6,1.6],[-2.5,3.4],[-2.4,4.3],[-2.3,2.3],[-2.3,3.0],[-2.2,1.1],[-2.1,4.0],[-2.0,2.7],[-2.0,5.4],[-1.9,3.5],[-1.8,1.8],[-1.8,4.6],[-1.7,3.1],[-1.6,2.4],[-1.5,5.0],[-1.5,3.9],[-1.4,1.5],[-1.3,3.3],[-1.2,4.4],[-1.2,2.1],[-1.1,5.6],[-1.0,3.0],[-1.0,4.1],[-0.9,2.6],[-0.8,5.2],[-0.7,3.6],[-0.7,1.9],[-0.6,4.6],[-0.5,2.9],[-0.4,5.5],[-0.3,3.9],[-0.2,2.4],[-0.1,4.9],[0.0,3.3],[0.1,5.8],[0.2,4.2],[0.3,2.7],[0.4,5.0],[0.5,3.6],[0.7,4.5],[0.8,2.3],[1.0,5.3],[1.1,3.9],[1.3,4.8],[1.5,3.2],[1.8,5.3],[2.0,4.1],[2.3,3.6],[2.5,4.9],[2.8,4.4],[3.2,5.4],[3.5,4.0],[3.9,4.7],[4.2,3.8],[4.6,5.0],[5.0,4.4],[5.5,4.8],[6.2,4.6],[-5.0,3.8],[-4.7,2.6],[-5.4,2.3],[-4.6,1.2],[-3.6,0.7],[-2.0,0.8],[-1.2,1.0],[-0.4,1.5],[-3.2,5.5],[-2.2,6.0],[-0.9,6.1],[1.2,5.9],
  [0.47,7.71],[0.08,7.37],[1.79,7.07],[3.38,7.44],[-0.11,6.48],[0.16,6.4],[0.74,6.62],[-0.58,6.51],[2.77,6.36],[-1.64,6.21],[-5.73,5.16],[-4.41,5.08],[6.07,6.03],[5.36,5.72],[7.73,4.97],[7.34,4.04],[6.49,3.2],[5.75,4.79],[5.75,2.88],[5.36,3.03],[4.7,2.86],[3.77,2.64],[3.11,3.31],[2.98,2.19],[2.32,2.08],[2.27,1.52],[2.45,1.01],[2.06,0.56],[1.66,1.4],[1.4,2.58],[0.47,0.79],[5.75,1.35],[-5.33,0.58],[-5.73,1.57],[-6.52,1.91],[-6.91,2.1],[-6.39,3.03],[-4.27,0.67],[-4.06,0.39],[-3.27,0.5],[-2.82,-0.11],[-2.64,-0.5],[-3.27,-0.73],[-2.48,0.39],[-1.69,0.45],[-3.75,1.35]];

var cxcr4 = [[-4.4,5.5],[-4.3,6.6],[-4.2,4.6],[-4.1,5.9],[-4.0,7.1],[-3.9,5.1],[-3.8,6.3],[-3.7,4.3],[-3.6,5.6],[-3.5,6.9],[-3.4,4.9],[-3.3,6.0],[-3.2,7.4],[-3.1,5.3],[-3.0,4.5],[-3.0,6.5],[-2.9,5.8],[-2.8,7.0],[-2.7,4.8],[-2.6,6.2],[-2.6,5.4],[-2.5,7.7],[-2.4,4.4],[-2.3,6.7],[-2.3,5.7],[-2.2,5.0],[-2.1,6.1],[-2.0,7.3],[-2.0,4.6],[-1.9,5.9],[-1.8,6.9],[-1.8,5.2],[-1.7,6.4],[-1.6,4.3],[-1.5,5.6],[-1.5,7.6],[-1.4,6.2],[-1.3,4.9],[-1.2,6.8],[-1.1,5.4],[-1.0,7.9],[-1.0,4.5],[-0.9,6.0],[-0.8,7.2],[-0.7,5.1],[-0.6,6.5],[-0.5,4.4],[-0.4,7.6],[-0.3,5.7],[-0.2,6.9],[-0.1,4.8],[0.0,6.2],[0.1,7.4],[0.2,5.3],[0.3,6.7],[0.4,4.6],[0.5,7.9],[0.7,5.9],[0.8,6.8],[1.0,5.0],[1.2,7.1],[1.4,6.3],[1.6,7.8],[1.8,5.6],[2.0,6.9],[2.3,6.1],[2.6,7.3],[2.9,5.8],[3.2,6.6],[3.5,7.6],[3.8,6.1],[4.2,7.0],[4.6,5.7],[5.0,6.8],[5.5,6.9],[6.3,7.0],[-5.0,5.7],[-4.7,4.1],[-4.8,6.9],[-3.4,3.6],[-2.8,3.9],[-1.2,3.9],[-0.2,4.0],[-3.0,7.9],[-1.6,8.3],[-0.7,8.6],[1.1,8.2],[2.8,7.9],
  [0.49,9.85],[0.27,9.37],[0.0,9.07],[-0.22,8.99],[-0.54,8.77],[3.59,9.17],[3.13,8.5],[0.27,8.08],[-0.27,8.08],[5.43,8.16],[4.84,8.0],[6.11,7.9],[2.17,8.36],[7.88,6.78],[7.83,6.43],[8.0,5.79],[7.6,6.14],[6.52,4.99],[5.76,4.54],[4.02,5.09],[3.89,4.84],[1.85,5.79],[2.31,4.71],[2.66,3.84],[1.09,4.04],[1.77,4.09],[-0.54,3.81],[-1.3,4.31],[-2.23,2.92],[-4.35,2.35],[-2.72,3.5],[-2.99,3.3],[-3.67,3.4],[-4.08,3.55],[-4.48,3.75],[-5.3,3.62],[-4.95,4.14],[-5.43,5.19],[-6.39,5.59],[-6.52,6.33],[-6.93,6.33],[-6.93,6.78],[-5.57,6.14],[-4.48,6.38]];

var il6r = [[-4.4,3.3],[-4.3,4.4],[-4.2,2.5],[-4.1,3.8],[-4.0,5.0],[-3.9,2.9],[-3.8,4.1],[-3.7,3.4],[-3.6,2.2],[-3.5,4.7],[-3.4,3.0],[-3.3,3.9],[-3.2,1.8],[-3.1,4.4],[-3.0,3.2],[-3.0,2.6],[-2.9,5.2],[-2.8,3.7],[-2.7,2.3],[-2.6,4.2],[-2.6,3.0],[-2.5,4.8],[-2.4,2.0],[-2.3,3.5],[-2.3,4.5],[-2.2,2.8],[-2.1,3.9],[-2.0,5.4],[-2.0,2.4],[-1.9,4.2],[-1.8,3.3],[-1.8,4.9],[-1.7,2.7],[-1.6,3.8],[-1.5,4.6],[-1.5,2.1],[-1.4,3.4],[-1.3,5.1],[-1.2,4.0],[-1.2,2.9],[-1.1,4.6],[-1.0,3.6],[-1.0,2.3],[-0.9,5.3],[-0.8,4.2],[-0.7,3.1],[-0.7,4.8],[-0.6,2.6],[-0.5,3.9],[-0.4,5.0],[-0.3,3.3],[-0.2,4.4],[-0.1,2.8],[0.0,4.7],[0.1,3.7],[0.2,5.3],[0.3,3.0],[0.4,4.2],[0.5,5.0],[0.7,3.5],[0.8,4.5],[1.0,3.9],[1.2,5.1],[1.3,3.2],[1.5,4.4],[1.8,3.6],[2.0,4.8],[2.2,4.0],[2.5,5.2],[2.8,4.3],[3.1,3.5],[3.4,4.9],[3.8,4.1],[4.2,3.6],[4.5,4.6],[4.9,3.8],[5.3,4.4],[-5.0,3.6],[-5.3,4.4],[-4.7,2.2],[-5.6,3.1],[-2.5,1.2],[-1.6,1.5],[-0.6,1.9],[-3.5,5.6],[-2.4,5.9],[-1.6,5.7],[0.6,5.8],[1.8,5.7],
  [-1.07,7.56],[-0.88,7.21],[-2.53,7.28],[-2.0,6.81],[0.13,6.32],[2.53,6.69],[-3.47,6.53],[-3.07,5.69],[-2.27,5.69],[3.6,5.83],[2.0,5.66],[6.27,4.99],[6.67,4.9],[7.6,4.04],[7.92,3.64],[7.28,4.1],[6.4,2.84],[5.73,2.86],[5.73,2.23],[6.27,2.39],[4.0,2.26],[4.67,1.16],[3.6,2.84],[2.93,2.98],[2.13,3.12],[0.8,2.98],[0.53,2.05],[0.88,2.05],[-3.07,1.3],[-2.67,1.23],[-3.47,1.25],[-3.28,0.88],[-3.07,0.64],[-3.87,0.77],[-4.13,1.35],[-4.4,1.53],[-4.93,1.58],[-4.53,2.09],[-6.32,1.63],[-6.53,4.1],[-5.79,2.42],[-4.88,2.98]];

var lta = [[-4.4,-0.9],[-4.3,0.4],[-4.2,-2.0],[-4.1,-0.3],[-4.0,1.3],[-3.9,-1.4],[-3.8,0.0],[-3.7,-2.6],[-3.6,0.8],[-3.5,-0.7],[-3.4,-1.8],[-3.3,0.3],[-3.2,1.6],[-3.1,-1.1],[-3.0,-0.2],[-3.0,-2.9],[-2.9,0.7],[-2.8,-1.6],[-2.7,1.2],[-2.7,-0.5],[-2.6,-2.2],[-2.5,0.2],[-2.4,-1.0],[-2.4,1.8],[-2.3,-0.1],[-2.2,-2.6],[-2.2,0.9],[-2.1,-1.4],[-2.0,0.4],[-2.0,-0.6],[-1.9,1.5],[-1.8,-1.9],[-1.8,0.1],[-1.7,-0.9],[-1.6,1.0],[-1.6,-2.8],[-1.5,-0.3],[-1.4,0.6],[-1.4,-1.6],[-1.3,1.9],[-1.2,-0.7],[-1.1,0.3],[-1.0,-2.1],[-1.0,1.3],[-0.9,-0.2],[-0.8,0.8],[-0.7,-1.2],[-0.6,1.6],[-0.5,0.0],[-0.4,-0.8],[-0.3,1.1],[-0.2,-1.9],[-0.1,0.5],[0.0,-0.4],[0.1,1.4],[0.2,-1.3],[0.4,0.2],[0.5,1.0],[0.7,-0.6],[0.9,0.6],[1.1,-1.5],[1.3,0.9],[1.5,-0.2],[1.7,0.4],[1.9,-0.9],[2.2,0.7],[2.5,-0.3],[2.8,0.2],[3.1,-1.0],[3.4,0.5],[3.7,0.0],[4.0,-0.5],[4.4,0.3],[-4.8,-1.6],[-4.7,0.6],[-5.2,-0.4],[-5.5,0.9],[-3.3,-3.4],[-2.5,-3.6],[-1.2,-3.1],[-0.5,-2.7],[-3.6,2.0],[-2.0,2.2],[-1.0,2.1],[0.3,2.2],[1.2,1.8],
  [-0.27,3.76],[0.05,3.61],[0.49,3.53],[1.77,3.59],[3.49,3.68],[0.27,2.88],[0.41,2.71],[0.68,2.94],[-0.05,2.74],[-3.27,2.32],[-2.04,1.94],[3.49,2.44],[6.13,2.12],[4.14,1.61],[2.72,1.82],[4.77,0.94],[4.85,-0.08],[4.36,-0.06],[5.67,-0.39],[6.32,-0.47],[7.3,-0.47],[7.9,0.0],[8.0,0.79],[7.9,0.47],[6.32,0.59],[4.77,-2.12],[5.4,-1.94],[3.76,-2.71],[2.78,-1.33],[1.69,-2.47],[0.87,-3.71],[0.27,-3.82],[0.49,-2.76],[-1.69,-4.04],[-1.5,-3.0],[-1.31,-2.88],[-3.49,-4.71],[-3.0,-4.62],[-2.78,-4.74],[-3.0,-5.24],[-4.22,-4.71],[-7.14,-4.35],[-6.65,-2.12],[-6.62,-1.02],[-6.4,-0.08],[-5.86,0.86],[-5.94,-2.71],[-5.5,-3.21],[-4.96,-3.38],[-5.01,-2.29]];

var tmigd2 = [[-4.4,-2.0],[-4.3,-0.6],[-4.2,-3.4],[-4.1,-1.3],[-4.0,-4.3],[-3.9,-0.1],[-3.8,-2.6],[-3.7,-1.7],[-3.6,-3.8],[-3.5,-0.9],[-3.4,-2.2],[-3.3,0.4],[-3.2,-3.1],[-3.1,-1.5],[-3.0,-4.7],[-3.0,-0.4],[-2.9,-2.5],[-2.8,-1.1],[-2.7,-3.5],[-2.6,0.1],[-2.6,-1.9],[-2.5,-2.9],[-2.4,-0.7],[-2.3,-4.1],[-2.3,-1.4],[-2.2,0.7],[-2.1,-2.3],[-2.0,-3.3],[-2.0,-0.9],[-1.9,-1.7],[-1.8,-4.5],[-1.8,0.3],[-1.7,-2.7],[-1.6,-1.2],[-1.5,-3.7],[-1.5,-0.3],[-1.4,-2.0],[-1.3,1.0],[-1.2,-3.0],[-1.1,-1.0],[-1.0,-2.4],[-1.0,0.0],[-0.9,-4.0],[-0.8,-1.6],[-0.7,0.6],[-0.6,-2.8],[-0.5,-0.6],[-0.4,-3.6],[-0.3,-1.9],[-0.2,0.2],[-0.1,-2.5],[0.0,-1.2],[0.1,-3.2],[0.2,-0.3],[0.4,-2.0],[0.5,0.9],[0.7,-1.5],[0.9,-2.8],[1.0,-0.5],[1.2,-1.9],[1.4,0.4],[1.6,-2.4],[1.8,-1.0],[2.1,-0.2],[2.4,-1.7],[2.7,0.6],[3.0,-1.2],[3.3,-2.3],[3.6,-0.4],[4.0,-1.5],[4.3,0.3],[4.7,-0.9],[5.0,-2.2],[-5.0,-2.6],[-4.8,-1.1],[-5.3,-1.7],[-4.7,-3.3],[-5.6,-0.8],[-3.6,-5.2],[-2.5,-5.1],[-1.0,-4.8],[-3.2,1.4],[-1.8,1.6],[-0.4,1.6],[1.1,1.2],[2.3,1.0],
  [6.07,3.23],[3.26,2.87],[-2.07,2.57],[-1.38,2.57],[0.0,2.21],[-2.2,1.97],[-4.41,1.3],[-5.79,0.51],[-6.48,-0.09],[5.38,1.17],[6.57,1.1],[7.72,0.84],[7.86,-0.36],[6.21,-0.89],[5.52,-0.49],[5.66,-1.69],[7.31,-1.89],[7.86,-1.89],[5.38,-3.55],[5.93,-4.28],[2.76,-2.89],[2.21,-3.15],[1.88,-3.22],[0.28,-4.48],[-1.52,-5.01],[-1.88,-5.61],[-2.9,-5.48],[-3.45,-4.75],[-4.41,-5.35],[-4.63,-6.25],[-4.0,-6.61],[-3.64,-6.88],[-3.26,-6.48],[-2.76,-6.94],[-7.03,-4.75],[-6.34,-4.79],[-5.79,-5.74],[-5.38,-3.88],[-6.48,-3.09]];

var tnfrsf13c = [[-4.9,-1.1],[-4.7,0.6],[-4.5,-2.3],[-4.4,1.3],[-4.3,-0.4],[-4.2,-1.6],[-4.0,0.2],[-3.9,-3.0],[-3.8,1.0],[-3.7,-0.9],[-3.6,-2.1],[-3.5,0.5],[-3.4,2.0],[-3.3,-1.3],[-3.2,-0.2],[-3.1,-3.5],[-3.0,1.4],[-3.0,-0.7],[-2.9,0.3],[-2.8,-2.5],[-2.7,2.6],[-2.7,-1.0],[-2.6,0.9],[-2.5,-0.4],[-2.4,-1.8],[-2.4,1.6],[-2.3,0.0],[-2.2,-2.9],[-2.1,0.6],[-2.1,-1.2],[-2.0,2.2],[-1.9,-0.5],[-1.9,-3.7],[-1.8,1.1],[-1.7,-1.6],[-1.7,0.2],[-1.6,2.8],[-1.5,-0.9],[-1.4,0.7],[-1.4,-2.4],[-1.3,1.8],[-1.2,-0.2],[-1.1,-1.4],[-1.0,0.9],[-1.0,3.1],[-0.9,-0.7],[-0.8,1.5],[-0.7,-2.0],[-0.6,0.3],[-0.5,2.3],[-0.4,-1.0],[-0.3,0.8],[-0.2,-2.8],[-0.1,1.7],[0.0,-0.4],[0.1,2.7],[0.2,0.4],[0.3,-1.6],[0.5,1.2],[0.6,-0.6],[0.8,2.0],[1.0,0.1],[1.2,-1.1],[1.4,1.4],[1.6,-0.3],[1.9,0.8],[2.2,-1.7],[2.5,0.3],[2.8,1.6],[3.1,-0.8],[3.4,0.9],[3.8,-0.3],[4.1,1.1],[4.5,-1.2],[5.0,0.6],[-5.3,0.0],[-5.6,-1.9],[-5.2,1.5],[-3.5,-4.0],[-2.6,-4.3],[-1.2,-3.9],[-3.3,3.2],[-2.2,3.4],[-0.8,3.6],[0.7,3.3],[2.2,2.8],
  [0.5,7.77],[0.5,5.48],[0.33,5.21],[-0.14,5.15],[3.47,5.53],[0.14,4.0],[1.67,4.1],[-0.56,3.82],[3.0,3.63],[3.56,3.53],[4.03,3.68],[-4.03,3.05],[4.72,2.39],[5.69,2.67],[5.97,2.35],[7.78,1.34],[7.86,1.24],[-6.51,-0.19],[-6.65,-1.24],[-6.65,-3.34],[-7.2,-4.1],[-4.41,-3.91],[-4.28,-4.87],[-2.48,-5.34],[-1.1,-4.87],[0.14,-5.92],[1.99,-6.43],[0.97,-3.49],[1.52,-3.49],[2.62,-2.77],[3.03,-2.19],[3.72,-1.87],[4.63,-3.72],[5.43,-2.0],[7.31,-2.48],[6.21,0.29],[6.48,-0.57],[5.46,0.29]];

var tnfrsf17 = [[-4.4,-1.2],[-4.3,0.9],[-4.2,-3.3],[-4.1,-0.2],[-4.0,-4.6],[-3.9,1.6],[-3.8,-2.1],[-3.7,0.3],[-3.6,-4.0],[-3.5,-1.0],[-3.4,2.4],[-3.3,-2.8],[-3.2,-0.5],[-3.1,-4.9],[-3.0,1.1],[-3.0,-1.8],[-2.9,-3.5],[-2.8,0.4],[-2.7,2.9],[-2.7,-2.4],[-2.6,-0.9],[-2.5,-4.3],[-2.4,1.5],[-2.4,-1.5],[-2.3,-3.0],[-2.2,0.0],[-2.1,2.2],[-2.1,-2.0],[-2.0,-0.6],[-2.0,-3.7],[-1.9,1.0],[-1.8,-1.3],[-1.8,3.2],[-1.7,-2.6],[-1.6,0.5],[-1.5,-0.3],[-1.5,-4.4],[-1.4,1.8],[-1.3,-1.9],[-1.2,2.6],[-1.2,-0.8],[-1.1,0.9],[-1.0,-3.2],[-1.0,1.6],[-0.9,-0.1],[-0.8,2.1],[-0.7,-1.6],[-0.7,1.2],[-0.6,3.0],[-0.5,0.3],[-0.4,-2.3],[-0.3,1.9],[-0.2,-0.7],[-0.1,2.6],[0.0,-1.8],[0.1,0.8],[0.2,3.4],[0.3,-0.3],[0.4,1.5],[0.5,-2.7],[0.7,0.2],[0.8,2.4],[1.0,-1.1],[1.2,1.0],[1.4,2.8],[1.6,-0.2],[1.9,1.8],[2.2,0.6],[2.5,2.2],[2.8,0.0],[3.1,1.4],[3.4,2.6],[3.8,0.9],[4.2,1.9],[4.6,1.4],[5.0,2.0],[-5.0,-0.6],[-4.8,-2.7],[-5.3,-1.8],[-4.7,1.9],[-3.3,-5.4],[-2.3,-5.1],[-1.1,-4.7],[-3.2,3.3],[-1.5,3.6],[-0.3,3.7],[1.0,3.3],
  [2.8,5.15],[5.41,5.07],[7.65,4.42],[3.22,4.37],[3.36,4.48],[2.32,4.02],[-2.38,4.17],[0.14,3.52],[-0.56,3.52],[4.34,2.67],[5.88,3.09],[7.14,3.06],[7.7,0.97],[7.76,0.87],[7.42,-0.26],[6.25,-0.57],[5.6,0.43],[5.88,1.05],[6.58,1.05],[4.48,-0.03],[3.64,-0.77],[2.94,-1.19],[2.24,-2.35],[2.8,-2.81],[3.36,-2.89],[3.73,-2.43],[2.04,-2.81],[0.84,-3.97],[0.56,-4.74],[4.76,-6.14],[-3.5,-6.18],[-3.22,-6.37],[-2.94,-6.71],[-3.08,-6.03],[-5.46,-5.47],[-6.58,-3.12],[-6.64,-2.66],[-5.88,2.13],[-4.62,1.98],[-6.58,0.36],[-1.82,-4.9],[-2.04,-5.05]];

var points = [adora2a, btla, cd244, csf1r, cd27, cd28, cd40lg, cd48, cxcr4, il6r, lta, tmigd2, tnfrsf13c, tnfrsf17];
var cores = [adora2aCore, btlaCore, cd244Core, csf1rCore, cd27Core, cd28Core, cd40lgCore, cd48Core,
             cxcr4Core, il6rCore, ltaCore, tmigd2Core, tnfrsf13cCore, tnfrsf17Core];
var cores2 = [adora2aCore2, btlaCore2, cd244Core2, csf1rCore2, cd27Core2, cd28Core2, cd40lgCore2, cd48Core2,
              cxcr4Core2, il6rCore2, ltaCore2, tmigd2Core2, tnfrsf13cCore2, tnfrsf17Core2];

// plot boxes in pixels: [left, top, right, bottom] and distance of the y name from the box
var boxes = [[64, 40, 376, 340], [477, 40, 772, 343], [869, 45, 1161, 343], [1239, 50, 1547, 348],
             [65, 465, 371, 738], [465, 467, 776, 743], [879, 466, 1177, 745], [1254, 467, 1562, 742],
             [60, 862, 363, 1137], [461, 863, 772, 1140], [877, 863, 1185, 1142], [1267, 865, 1565, 1150],
             [59, 1252, 363, 1523], [461, 1253, 762, 1534]];
var yNameGap = [26, 49, 48, 26, 37, 34, 48, 27, 35, 28, 36, 48, 31, 47];

var font = '"Liberation Sans", Arial, sans-serif';
var txt = '#222';
var dom = document.getElementById('chart');
var myChart = echarts.init(dom, null, { renderer: 'canvas' });

var grids = [], xAxes = [], yAxes = [], series = [], graphics = [];

function zipInto(data, xs, ys) {
  for (var k = 0; k < Math.min(xs.length, ys.length); k++) {
    data.push([xs[k], ys[k]]);
  }
}

for (var i = 0; i < genes.length; i++) {
  var b = boxes[i];
  var half = yTicks[i].some(function (v) { return v % 1 !== 0; });
  var data = points[i].slice();
  zipInto(data, ghrlCore, cores[i]);
  zipInto(data, ghrlCore2, cores2[i]);

  grids.push({
    left: b[0], top: b[1], width: b[2] - b[0], height: b[3] - b[1],
    show: true, borderColor: '#858585', borderWidth: 1.2, backgroundColor: '#fff'
  });
  xAxes.push({
    gridIndex: i, type: 'value', min: xRange[0], max: xRange[1],
    axisLine: { show: false, onZero: false }, splitLine: { show: false },
    axisTick: { show: true, length: 3, customValues: xTicks, lineStyle: { color: '#555' } },
    axisLabel: { customValues: xTicks, margin: 5, color: txt, fontSize: 14, fontFamily: font }
  });
  yAxes.push({
    gridIndex: i, type: 'value', min: yRanges[i][0], max: yRanges[i][1],
    axisLine: { show: false, onZero: false }, splitLine: { show: false },
    axisTick: { show: true, length: 3, customValues: yTicks[i], lineStyle: { color: '#555' } },
    axisLabel: {
      customValues: yTicks[i], margin: 5, color: txt, fontSize: 14, fontFamily: font,
      formatter: (function (h) { return function (v) { return h ? v.toFixed(1) : String(v); }; })(half)
    }
  });
  series.push({
    type: 'scatter', xAxisIndex: i, yAxisIndex: i, data: data,
    symbolSize: 4.8, silent: true, itemStyle: { color: '#1f9a6b', opacity: 0.95 }
  });
  series.push({
    type: 'line', xAxisIndex: i, yAxisIndex: i, data: fitLines[i],
    symbol: 'none', silent: true, z: 3, lineStyle: { color: '#2c6a47', width: 2.2 }
  });

  var cx = (b[0] + b[2]) / 2;
  var lines = [['STAD (415 samples)', b[1] - 15, 16.5], ['GHRL_exp', b[3] + 29, 17.5],
               ['Spearman Correlation Test:', b[3] + 48, 17.5], [stats[i], b[3] + 67, 17.5]];
  lines.forEach(function (l) {
    graphics.push({
      type: 'text', x: cx, y: l[1], silent: true,
      style: { text: l[0], fill: txt, font: l[2] + 'px ' + font, textAlign: 'center', textVerticalAlign: 'middle', align: 'center', verticalAlign: 'middle' }
    });
  });
  graphics.push({
    type: 'text', x: b[0] - yNameGap[i], y: (b[1] + b[3]) / 2, rotation: Math.PI / 2, silent: true,
    style: { text: genes[i] + '_exp', fill: txt, font: '16px ' + font, textAlign: 'center', textVerticalAlign: 'middle', align: 'center', verticalAlign: 'middle' }
  });
}

graphics.push({
  type: 'text', x: 3, y: 29,
  style: { text: 'A', fill: '#000', font: 'bold 25px ' + font, textVerticalAlign: 'middle', verticalAlign: 'middle' }
});
graphics.push({
  type: 'text', x: 3, y: 457,
  style: { text: 'B', fill: '#000', font: 'bold 25px ' + font, textVerticalAlign: 'middle', verticalAlign: 'middle' }
});

var option = {
  animation: false,
  backgroundColor: '#fff',
  grid: grids,
  xAxis: xAxes,
  yAxis: yAxes,
  series: series,
  graphic: { elements: graphics }
};

myChart.setOption(option);
window.addEventListener('resize', myChart.resize);
</script>
</body>
</html>
